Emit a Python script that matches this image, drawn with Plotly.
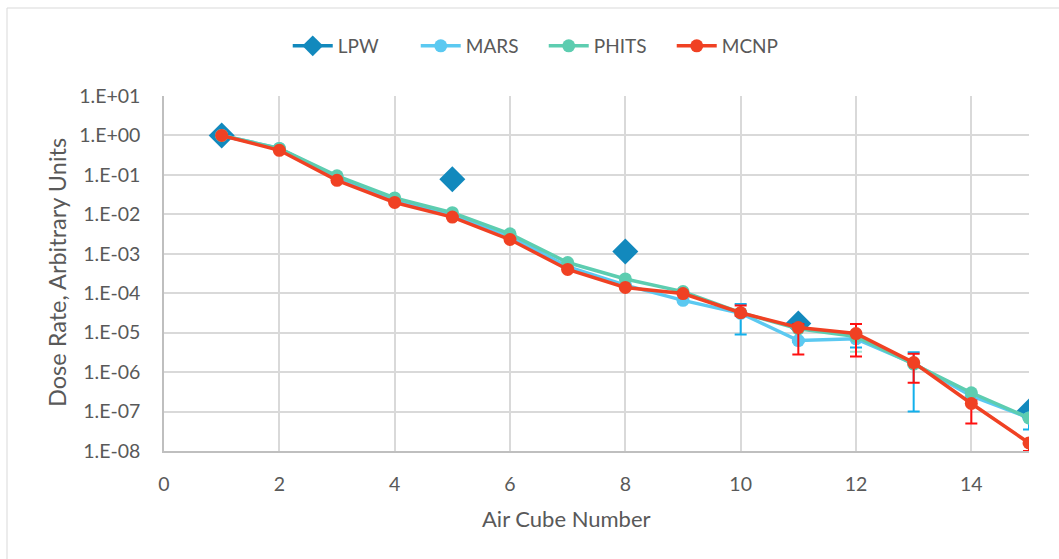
import plotly.graph_objects as go

# Air cube index along the shielding path
cube = list(range(1, 16))

# Dose rate per code (arbitrary units)
lpw = [1.0, None, None, None, 7.8e-2, None, None, 1.14e-3, None, None, 1.7e-5, None, None, None, 1.0e-7]
mars = [1.0, 0.47, 8.8e-2, 2.4e-2, 9.8e-3, 2.8e-3, 4.7e-4, 1.6e-4, 6.6e-5, 3.1e-5, 6.3e-6, 7.0e-6, 1.65e-6, 2.5e-7, 6.9e-8]
phits = [1.0, 0.47, 9.5e-2, 2.6e-2, 1.1e-2, 3.2e-3, 6.0e-4, 2.3e-4, 1.1e-4, 3.2e-5, 1.25e-5, 8.0e-6, 1.6e-6, 3.0e-7, 6.9e-8]
mcnp = [1.0, 0.42, 7.3e-2, 2.0e-2, 8.5e-3, 2.3e-3, 4.0e-4, 1.4e-4, 9.8e-5, 3.2e-5, 1.35e-5, 9.5e-6, 1.74e-6, 1.6e-7, 1.6e-8]

# Statistical uncertainties (absolute): upper and lower
mars_err_up = [0, 0, 0, 0, 0, 0, 0, 0, 4e-6, 2.2e-5, 5e-7, 2.8e-6, 1.55e-6, 2e-8, 5e-9]
mars_err_dn = [0, 0, 0, 0, 0, 0, 0, 0, 4e-6, 2.2e-5, 5e-7, 2.8e-6, 1.55e-6, 2e-8, 3.4e-8]
phits_err_up = [0, 0, 0, 0, 0, 0, 0, 0, 0, 4e-6, 5e-7, 2e-6, 2e-7, 2e-8, 4e-9]
phits_err_dn = [0, 0, 0, 0, 0, 0, 0, 0, 0, 4e-6, 5e-7, 4.7e-6, 2e-7, 2e-8, 4e-9]
mcnp_err_up = [0, 0, 0, 0, 0, 0, 0, 0, 0, 1.7e-5, 3e-6, 7e-6, 1.2e-6, 3e-8, 2e-9]
mcnp_err_dn = [0, 0, 0, 0, 0, 0, 0, 0, 0, 5e-6, 1.07e-5, 7e-6, 1.2e-6, 1.1e-7, 6e-9]

# Axis ticks
x_ticks = [0, 2, 4, 6, 8, 10, 12, 14]
y_tickvals = [1e1, 1e0, 1e-1, 1e-2, 1e-3, 1e-4, 1e-5, 1e-6, 1e-7, 1e-8]
y_ticktext = ["1.E+01", "1.E+00", "1.E-01", "1.E-02", "1.E-03", "1.E-04",
              "1.E-05", "1.E-06", "1.E-07", "1.E-08"]

FONT = "Lato"
TXT = "#595959"
GRID = "#D9D9D9"

fig = go.Figure()

fig.add_trace(go.Scatter(
    x=cube, y=lpw, name="LPW", mode="lines+markers", connectgaps=False,
    line=dict(color="#1289BD", width=3.5),
    marker=dict(symbol="diamond", size=20, color="#1289BD"),
))
fig.add_trace(go.Scatter(
    x=cube, y=mars, name="MARS", mode="lines+markers",
    line=dict(color="#5BC9F1", width=3.5),
    marker=dict(symbol="circle", size=13, color="#5BC9F1"),
    error_y=dict(type="data", array=mars_err_up, arrayminus=mars_err_dn,
                 color="#12B0EC", thickness=2, width=6),
))
fig.add_trace(go.Scatter(
    x=cube, y=phits, name="PHITS", mode="lines+markers",
    line=dict(color="#5DCDB0", width=3.5),
    marker=dict(symbol="circle", size=13, color="#5DCDB0"),
    error_y=dict(type="data", array=phits_err_up, arrayminus=phits_err_dn,
                 color="#A8E3D3", thickness=2, width=6),
))
fig.add_trace(go.Scatter(
    x=cube, y=mcnp, name="MCNP", mode="lines+markers",
    line=dict(color="#F04123", width=3.5),
    marker=dict(symbol="circle", size=13, color="#F04123"),
    error_y=dict(type="data", array=mcnp_err_up, arrayminus=mcnp_err_dn,
                 color="#FF1010", thickness=2, width=6),
))

fig.update_layout(
    width=1059, height=559,
    margin=dict(l=164, r=30, t=96, b=108),
    paper_bgcolor="white", plot_bgcolor="white",
    font=dict(family=FONT, color=TXT, size=19),
    showlegend=True,
    legend=dict(
        orientation="h", x=0.439, xanchor="center", y=1.141, yanchor="middle",
        font=dict(family=FONT, size=19, color=TXT), itemwidth=40, entrywidth=73,
        bgcolor="rgba(0,0,0,0)",
    ),
    xaxis=dict(
        range=[0, 15], tickvals=x_ticks, showgrid=True, gridcolor=GRID, gridwidth=1.5,
        zeroline=False, showline=True, linecolor="#BFBFBF", linewidth=1.5,
        ticks="", ticklabelstandoff=15, tickfont=dict(size=19.5, color=TXT),
    ),
    yaxis=dict(
        type="log", range=[-8, 1], tickvals=y_tickvals, ticktext=y_ticktext,
        showgrid=True, gridcolor=GRID, gridwidth=1.5,
        zeroline=False, showline=True, linecolor="#BFBFBF", linewidth=1.5,
        ticks="", ticklabelstandoff=18, tickfont=dict(size=19.5, color=TXT),
    ),
    annotations=[
        dict(text="Air Cube Number", xref="paper", yref="paper",
             x=(566 - 164) / 865, y=(451 - 518) / 355, xanchor="center", yanchor="middle",
             showarrow=False, font=dict(size=22, color=TXT, family=FONT)),
        dict(text="Dose Rate, Arbitrary Units", xref="paper", yref="paper",
             x=(57 - 164) / 865, y=(451 - 273) / 355, xanchor="center", yanchor="middle",
             textangle=-90, showarrow=False, font=dict(size=23.5, color=TXT, family=FONT)),
    ],
    shapes=[
        dict(type="rect", xref="paper", yref="paper",
             x0=(7 - 164) / 865, x1=(1070 - 164) / 865,
             y0=(451 - 570) / 355, y1=(451 - 8) / 355,
             line=dict(color=GRID, width=1), fillcolor="rgba(0,0,0,0)", layer="below"),
    ],
)

fig.write_html("out.html")
